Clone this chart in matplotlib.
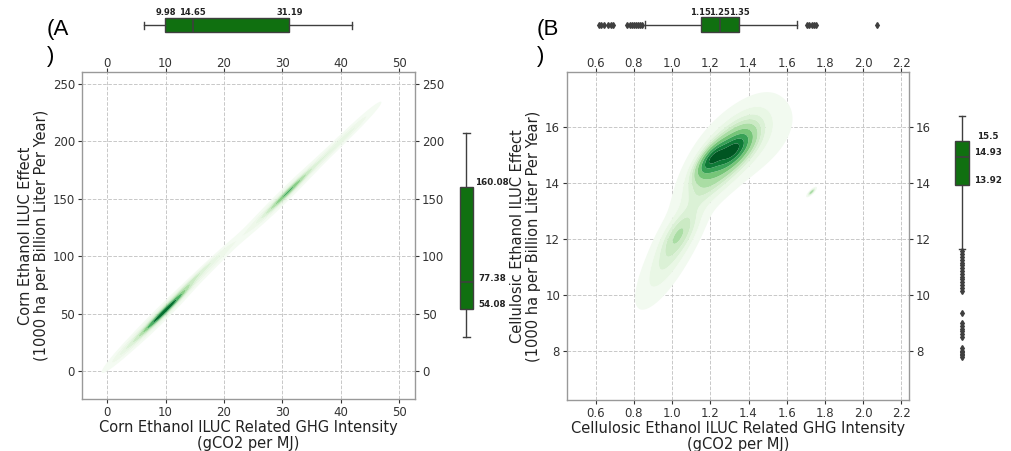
import numpy as np
import matplotlib
matplotlib.use("Agg")
import matplotlib.pyplot as plt
import matplotlib.transforms as mtransforms

W, H = 1012, 451

# ---------------- data ----------------
# Panel A: density components along the band  y = slope*x + offset
A_cx = [10.0, 9.0, 14.0, 31.0, 30.0, 40.0, 40.0, 18.0, 3.0]
A_sx = [2.2, 3.5, 3.0, 2.2, 4.5, 4.0, 4.0, 3.0, 2.5]
A_slope = [4.9, 4.9, 4.9, 4.9, 4.9, 4.95, 4.75, 4.9, 4.9]
A_off = [4.0, 4.0, 8.0, 4.0, 4.0, 3.0, 9.0, 5.0, 4.0]
A_sv = [2.0, 4.0, 2.0, 2.2, 4.0, 3.0, 2.5, 3.5, 3.5]
A_w = [0.20, 0.25, 0.06, 0.12, 0.17, 0.06, 0.04, 0.06, 0.04]

# Panel B: density components (centre, spread, correlation, weight)
B_cx = [1.33, 1.20, 1.26, 1.38, 1.035, 1.00, 1.73]
B_cy = [15.2, 14.85, 14.8, 15.5, 12.2, 11.6, 13.67]
B_sx = [0.065, 0.05, 0.11, 0.15, 0.06, 0.10, 0.012]
B_sy = [0.45, 0.40, 0.9, 0.9, 0.5, 1.1, 0.08]
B_rho = [0.6, 0.7, 0.75, 0.5, 0.6, 0.8, 0.8]
B_w = [0.13, 0.08, 0.33, 0.15, 0.04, 0.14, 0.003]

# Box plot statistics
A_x_box = dict(whislo=6.3, q1=9.98, med=14.65, q3=31.19, whishi=42.0, fliers=[])
A_y_box = dict(whislo=30.0, q1=54.08, med=77.38, q3=160.08, whishi=207.0, fliers=[])
B_x_box = dict(whislo=0.856, q1=1.15, med=1.25, q3=1.35, whishi=1.655,
               fliers=[0.615, 0.63, 0.645, 0.665, 0.68, 0.69,
                       0.765, 0.78, 0.79, 0.80, 0.81, 0.82, 0.83, 0.845,
                       1.705, 1.715, 1.73, 1.745, 1.755, 2.07])
B_y_box = dict(whislo=11.64, q1=13.92, med=14.93, q3=15.5, whishi=16.39,
               fliers=[11.55, 11.45, 11.35, 11.25, 11.15, 11.05, 10.95, 10.85,
                       10.75, 10.65, 10.55, 10.45, 10.35, 10.25, 10.15,
                       9.35, 9.0, 8.9, 8.8, 8.7, 8.6, 8.5,
                       8.1, 8.0, 7.95, 7.9, 7.85, 7.8])

A_x_labels = ["9.98", "14.65", "31.19"]
A_y_labels = ["160.08", "77.38", "54.08"]
B_x_labels = ["1.15", "1.25", "1.35"]
B_y_labels = ["15.5", "14.93", "13.92"]

A_xticks = [0, 10, 20, 30, 40, 50]
A_yticks = [0, 50, 100, 150, 200, 250]
B_xticks = [0.6, 0.8, 1.0, 1.2, 1.4, 1.6, 1.8, 2.0, 2.2]
B_yticks = [8, 10, 12, 14, 16]

A_xlabel = "Corn Ethanol ILUC Related GHG Intensity\n(gCO2 per MJ)"
A_ylabel = "Corn Ethanol ILUC Effect\n(1000 ha per Billion Liter Per Year)"
B_xlabel = "Cellulosic Ethanol ILUC Related GHG Intensity\n(gCO2 per MJ)"
B_ylabel = "Cellulosic Ethanol ILUC Effect\n(1000 ha per Billion Liter Per Year)"

# ---------------- helpers ----------------
def gauss2d(X, Y, cx, cy, sx, sy, rho, w):
    dx = (X - cx) / sx
    dy = (Y - cy) / sy
    q = (dx ** 2 - 2 * rho * dx * dy + dy ** 2) / (1 - rho ** 2)
    return w / (2 * np.pi * sx * sy * np.sqrt(1 - rho ** 2)) * np.exp(-q / 2)


def iso_levels(Z, props):
    vals = np.ravel(Z)
    sv = np.sort(vals)[::-1]
    cum = np.cumsum(sv) / vals.sum()
    idx = np.searchsorted(cum, 1 - np.asarray(props))
    return np.take(sv, idx, mode="clip")


def ax_px(x0, y0, x1, y1):
    return [x0 / W, 1 - y1 / H, (x1 - x0) / W, (y1 - y0) / H]


BOX_COLOR = "#107010"
EDGE = "#3f3f3f"
TICK_COLOR = "#333333"
SPINE_COLOR = "#999999"
LABEL_KW = dict(fontsize=10.5, color="#222222", linespacing=1.08)

fig = plt.figure(figsize=(W / 100, H / 100), dpi=100)
top_shift = mtransforms.ScaledTranslation(0, -3.5 / 72, fig.dpi_scale_trans)


def style_main(ax):
    ax.tick_params(top=True, labeltop=True, right=True, labelright=True,
                   labelsize=8.5, colors=TICK_COLOR, length=3, width=0.8, pad=2)
    for s in ax.spines.values():
        s.set_color(SPINE_COLOR)
        s.set_linewidth(1.0)
    ax.grid(True, linestyle="--", color="#c8c8c8", linewidth=0.7)
    ax.set_axisbelow(True)
    for t in ax.xaxis.get_major_ticks():
        t.label2.set_transform(t.label2.get_transform() + top_shift)


def draw_box(ax, stats, vert, width):
    ax.bxp([stats], positions=[0], widths=width, vert=vert, patch_artist=True,
           showfliers=True,
           boxprops=dict(facecolor=BOX_COLOR, edgecolor=EDGE, linewidth=1.0),
           medianprops=dict(color=EDGE, linewidth=1.2),
           whiskerprops=dict(color=EDGE, linewidth=1.0),
           capprops=dict(color=EDGE, linewidth=1.0),
           flierprops=dict(marker="d", markerfacecolor=EDGE, markeredgecolor=EDGE,
                           markersize=3, linestyle="none"))
    ax.set_axis_off()


# ================= Panel A =================
axA = fig.add_axes(ax_px(82, 72, 415, 399))
xa = np.linspace(-4.3, 52.7, 600)
ya = np.linspace(-24, 260, 600)
XA, YA = np.meshgrid(xa, ya)
ZA = np.zeros_like(XA)
for cx, sx, sl, off, svv, w in zip(A_cx, A_sx, A_slope, A_off, A_sv, A_w):
    cy = sl * cx + off
    sy = np.sqrt((sl * sx) ** 2 + svv ** 2)
    rho = sl * sx / sy
    ZA += gauss2d(XA, YA, cx, cy, sx, sy, rho, w)
levA = iso_levels(ZA, np.linspace(0.05, 1, 10))
axA.contourf(XA, YA, ZA, levels=levA, cmap="Greens", antialiased=True)
axA.set_xlim(-4.3, 52.7)
axA.set_ylim(-24, 260)
axA.set_xticks(A_xticks)
axA.set_yticks(A_yticks)
style_main(axA)
axA.set_xlabel(A_xlabel, labelpad=1, **LABEL_KW)
axA.set_ylabel(A_ylabel, labelpad=3, **LABEL_KW)

# top box A
axAt = fig.add_axes(ax_px(82, 15, 415, 35), sharex=axA)
draw_box(axAt, A_x_box, False, 0.7)
axAt.set_ylim(-0.5, 0.5)
for v, s in zip([A_x_box["q1"], A_x_box["med"], A_x_box["q3"]], A_x_labels):
    axAt.text(v, 0.38, s, ha="center", va="bottom", fontsize=6, fontweight="bold",
              color="#222222")

# right box A
axAr = fig.add_axes(ax_px(455, 72, 478, 399), sharey=axA)
draw_box(axAr, A_y_box, True, 0.57)
axAr.set_xlim(-0.5, 0.5)
for v, s in zip([A_y_box["q3"], A_y_box["med"], A_y_box["q1"]], A_y_labels):
    axAr.annotate(s, (0.5, v), xycoords=("axes fraction", "data"),
                  xytext=(18.4, 3), textcoords="offset points", ha="center",
                  va="center", fontsize=6.3, fontweight="bold", color="#222222",
                  annotation_clip=False)

# ================= Panel B =================
axB = fig.add_axes(ax_px(567, 72, 909, 400))
xb = np.linspace(0.45, 2.24, 500)
yb = np.linspace(6.25, 17.95, 500)
XB, YB = np.meshgrid(xb, yb)
ZB = np.zeros_like(XB)
for cx, cy, sx, sy, r, w in zip(B_cx, B_cy, B_sx, B_sy, B_rho, B_w):
    ZB += gauss2d(XB, YB, cx, cy, sx, sy, r, w)
levB = iso_levels(ZB, np.linspace(0.05, 1, 10))
axB.contourf(XB, YB, ZB, levels=levB, cmap="Greens", antialiased=True)
axB.set_xlim(0.45, 2.24)
axB.set_ylim(6.25, 17.95)
axB.set_xticks(B_xticks)
axB.set_yticks(B_yticks)
style_main(axB)
axB.set_xlabel(B_xlabel, labelpad=1, **LABEL_KW)
axB.set_ylabel(B_ylabel, labelpad=3, **LABEL_KW)

# top box B
axBt = fig.add_axes(ax_px(567, 14, 909, 35), sharex=axB)
draw_box(axBt, B_x_box, False, 0.7)
axBt.set_ylim(-0.5, 0.5)
for v, s in zip([B_x_box["q1"], B_x_box["med"], B_x_box["q3"]], B_x_labels):
    axBt.text(v, 0.38, s, ha="center", va="bottom", fontsize=6, fontweight="bold",
              color="#222222")

# right box B
axBr = fig.add_axes(ax_px(950, 72, 974, 400), sharey=axB)
draw_box(axBr, B_y_box, True, 0.58)
axBr.set_xlim(-0.5, 0.5)
for v, s in zip([B_y_box["q3"], B_y_box["med"], B_y_box["q1"]], B_y_labels):
    axBr.annotate(s, (0.5, v), xycoords=("axes fraction", "data"),
                  xytext=(18.7, 3), textcoords="offset points", ha="center",
                  va="center", fontsize=6.3, fontweight="bold", color="#222222",
                  annotation_clip=False)

# panel letters
fig.text(47 / W, 1 - 43 / H, "(A\n)", fontsize=16, family="Liberation Sans",
         ha="left", va="center", linespacing=1.35)
fig.text(537 / W, 1 - 43 / H, "(B\n)", fontsize=16, family="Liberation Sans",
         ha="left", va="center", linespacing=1.35)

fig.savefig("out.png", dpi=100)
